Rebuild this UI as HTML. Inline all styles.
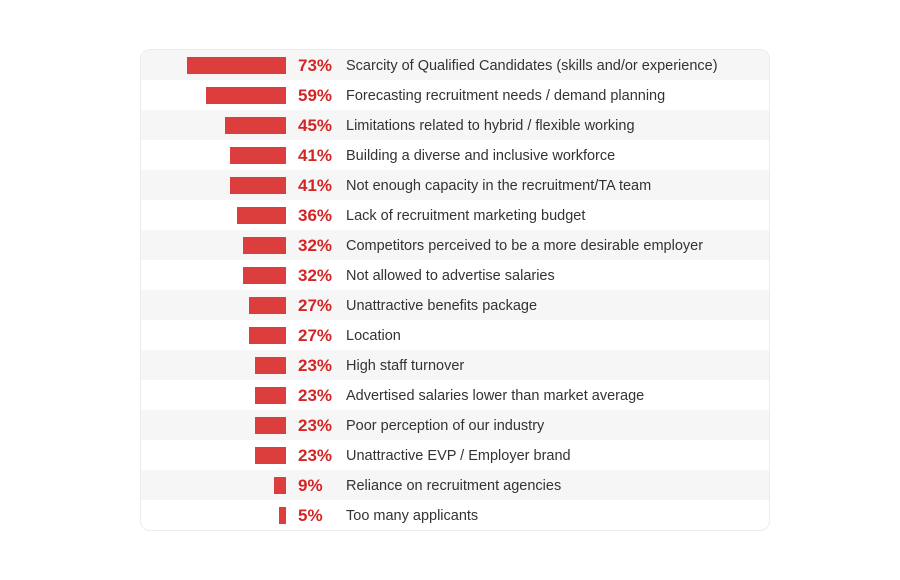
<!DOCTYPE html><html><head><style>
body{margin:0;width:900px;height:580px;background:#fff;font-family:"Liberation Sans",sans-serif;}
.card{position:absolute;left:140px;top:49px;width:628px;height:480px;border:1px solid #ececec;border-radius:10px;overflow:hidden;}
.row{position:relative;height:30px;}
.row:nth-child(odd){background:#f6f6f6;}
.bar{position:absolute;right:483px;top:7px;height:17px;background:#dc3d3d;}
.p{position:absolute;left:157px;top:6px;font-size:17px;font-weight:bold;color:#d42424;}
.l{position:absolute;left:205px;top:8px;font-size:14.5px;color:#333;}
</style></head><body><div class="card">
<div class="row"><div class="bar" style="width:99px"></div><span class="p">73%</span><span class="l">Scarcity of Qualified Candidates (skills and/or experience)</span></div>
<div class="row"><div class="bar" style="width:80px"></div><span class="p">59%</span><span class="l">Forecasting recruitment needs / demand planning</span></div>
<div class="row"><div class="bar" style="width:61px"></div><span class="p">45%</span><span class="l">Limitations related to hybrid / flexible working</span></div>
<div class="row"><div class="bar" style="width:56px"></div><span class="p">41%</span><span class="l">Building a diverse and inclusive workforce</span></div>
<div class="row"><div class="bar" style="width:56px"></div><span class="p">41%</span><span class="l">Not enough capacity in the recruitment/TA team</span></div>
<div class="row"><div class="bar" style="width:49px"></div><span class="p">36%</span><span class="l">Lack of recruitment marketing budget</span></div>
<div class="row"><div class="bar" style="width:43px"></div><span class="p">32%</span><span class="l">Competitors perceived to be a more desirable employer</span></div>
<div class="row"><div class="bar" style="width:43px"></div><span class="p">32%</span><span class="l">Not allowed to advertise salaries</span></div>
<div class="row"><div class="bar" style="width:37px"></div><span class="p">27%</span><span class="l">Unattractive benefits package</span></div>
<div class="row"><div class="bar" style="width:37px"></div><span class="p">27%</span><span class="l">Location</span></div>
<div class="row"><div class="bar" style="width:31px"></div><span class="p">23%</span><span class="l">High staff turnover</span></div>
<div class="row"><div class="bar" style="width:31px"></div><span class="p">23%</span><span class="l">Advertised salaries lower than market average</span></div>
<div class="row"><div class="bar" style="width:31px"></div><span class="p">23%</span><span class="l">Poor perception of our industry</span></div>
<div class="row"><div class="bar" style="width:31px"></div><span class="p">23%</span><span class="l">Unattractive EVP / Employer brand</span></div>
<div class="row"><div class="bar" style="width:12px"></div><span class="p">9%</span><span class="l">Reliance on recruitment agencies</span></div>
<div class="row"><div class="bar" style="width:7px"></div><span class="p">5%</span><span class="l">Too many applicants</span></div>
</div></body></html>
